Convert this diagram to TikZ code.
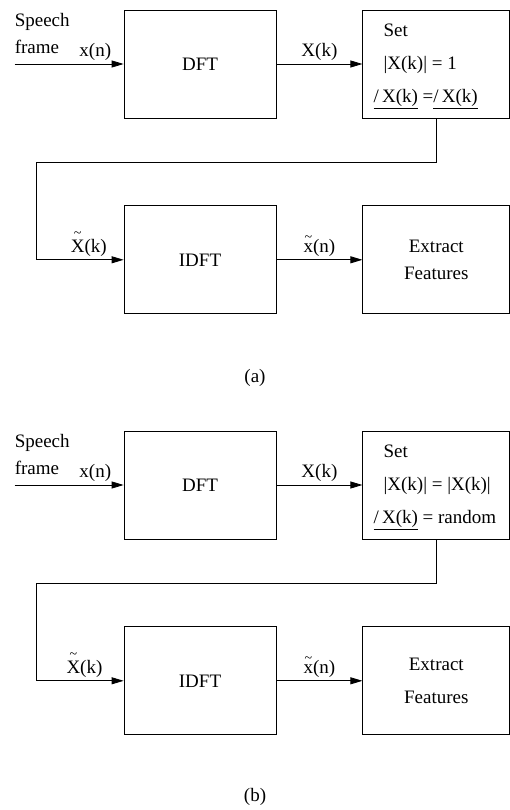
\documentclass[tikz,border=0pt]{standalone}
\usepackage{fontspec}
\setmainfont{Liberation Serif}
\usetikzlibrary{positioning, arrows.meta}
\newcommand{\phs}[1]{\underline{/\,#1}}
\newcommand{\tld}[1]{\leavevmode\setbox0\hbox{#1}\rlap{\hbox to \wd0{\hss\raisebox{\dimexpr\ht0+2pt\relax}{\fontsize{14}{14}\selectfont\textasciitilde}\hss}}\box0}

\begin{document}
\begin{tikzpicture}[
  font=\fontsize{19}{27}\selectfont,
  node distance=86pt,
  block/.style={draw, line width=0.8pt, minimum width=152pt, minimum height=108pt, inner sep=0pt},
  outbox/.style={block, minimum width=147pt, align=center},
  arrow/.style={-{Triangle[length=12pt,width=7pt]}, line width=0.8pt},
  lbl/.style={inner sep=0pt, anchor=base west}
]
\useasboundingbox (0,0) rectangle (510pt,-810pt);

% (a)
\node[block] (dftA) at (200pt,-64pt) {DFT};
\node[outbox, right=of dftA] (setA) {};
\node[block, below=87pt of dftA] (idftA) {IDFT};
\node[outbox, right=of idftA] (featA) {Extract\\Features};

\node[lbl] (setA1) at ([shift={(21pt,-27pt)}]setA.north west) {Set};
\node[lbl] (setA2) at ([shift={(21pt,-60pt)}]setA.north west) {|X(k)| = 1};
\node[lbl] (setA3) at ([shift={(11pt,-93pt)}]setA.north west) {\phs{X(k)} =\phs{X(k)}};

\coordinate[left=109pt of dftA.west] (inA);
\node[align=left, anchor=south west, inner sep=0pt] (spA) at ([yshift=10pt]inA) {Speech\\frame};

\draw[arrow] (inA) -- node[above, pos=0.74] (xnA) {x(n)} (dftA);
\draw[arrow] (dftA) -- node[above] (XkA) {X(k)} (setA);
\draw[arrow] (setA.south) -- ++(0,-44pt) -| ([xshift=-87pt]idftA.west)
  -- node[above, pos=0.6] (XtA) {\tld{X}(k)} (idftA.west);
\draw[arrow] (idftA) -- node[above] (xtA) {\tld{x}(n)} (featA);

\node (capA) at (255pt,-378pt) {(a)};

% (b)
\node[block] (dftB) at (200pt,-485pt) {DFT};
\node[outbox, right=of dftB] (setB) {};
\node[block, below=87pt of dftB] (idftB) {IDFT};
\node[outbox, right=of idftB] (featB) {Extract\\[6pt]Features};

\node[lbl] (setB1) at ([shift={(21pt,-27pt)}]setB.north west) {Set};
\node[lbl] (setB2) at ([shift={(21pt,-60pt)}]setB.north west) {|X(k)| = |X(k)|};
\node[lbl] (setB3) at ([shift={(11pt,-93pt)}]setB.north west) {\phs{X(k)} = random};

\coordinate[left=109pt of dftB.west] (inB);
\node[align=left, anchor=south west, inner sep=0pt] (spB) at ([yshift=10pt]inB) {Speech\\frame};

\draw[arrow] (inB) -- node[above, pos=0.74] (xnB) {x(n)} (dftB);
\draw[arrow] (dftB) -- node[above] (XkB) {X(k)} (setB);
\draw[arrow] (setB.south) -- ++(0,-44pt) -| ([xshift=-87pt]idftB.west)
  -- node[above, pos=0.55] (XtB) {\tld{X}(k)} (idftB.west);
\draw[arrow] (idftB) -- node[above] (xtB) {\tld{x}(n)} (featB);

\node (capB) at (255pt,-797pt) {(b)};
\end{tikzpicture}
\end{document}
